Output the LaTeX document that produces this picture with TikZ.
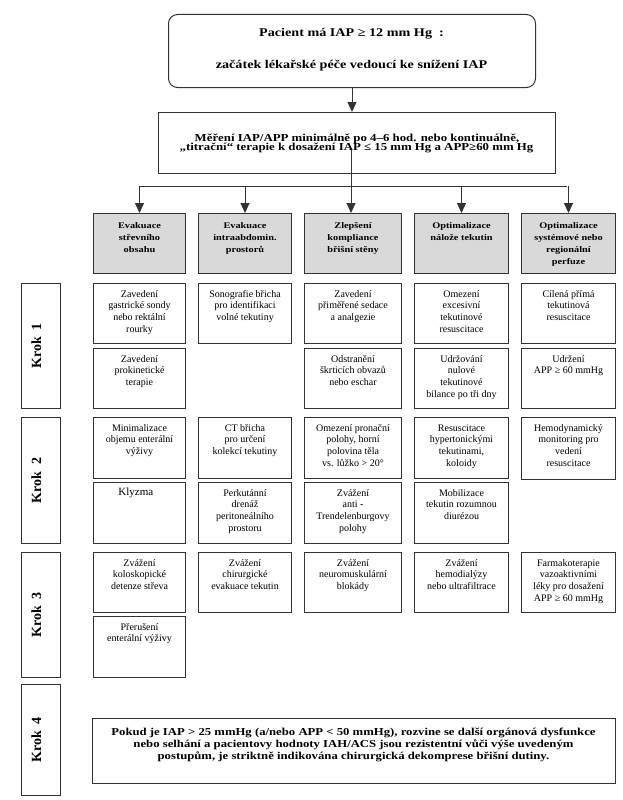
\documentclass[tikz,border=0pt]{standalone}
\usepackage{fontspec}
\setmainfont{Liberation Serif}
\newfontfamily\widefont{Liberation Serif}[FakeStretch=1.2]
\usetikzlibrary{arrows.meta}
\newcommand\mkbox[7]{%
  \node[#2, minimum width={#5pt-#3pt}, minimum height={#6pt-#4pt}] (#1) at (#3,#4) {};
  \node[#2text] (#1t) at (#1.north) {\strut #7};}
\begin{document}
\begin{tikzpicture}[x=1pt,y=-1pt,
  line/.style={draw=black!80, line width=1pt},
  frame/.style={line, inner sep=0pt, anchor=north west, fill=white},
  cellbox/.style={frame},
  hdrbox/.style={frame, fill=black!15},
  cellboxtext/.style={anchor=north, yshift=-5.8pt, inner sep=0pt, align=center,
    font=\fontsize{10}{11.7}\selectfont},
  hdrboxtext/.style={anchor=north, yshift=-6.4pt, inner sep=0pt, align=center,
    font=\widefont\bfseries\fontsize{8.6}{12}\selectfont},
  kroklabel/.style={font=\bfseries\fontsize{14}{16}\selectfont, rotate=90, inner sep=0pt, anchor=base},
  bigtext/.style={anchor=base, inner sep=0pt, font=\widefont\bfseries\fontsize{11.8}{14}\selectfont},
  meastext/.style={anchor=base, inner sep=0pt, font=\widefont\bfseries\fontsize{10.7}{12}\selectfont},
  arr/.style={line, -{Triangle[width=9pt,length=10pt]}},
]
\useasboundingbox (0,0) rectangle (623,800);

% top box
\node[line, rounded corners=9pt, inner sep=0pt, anchor=north west,
      minimum width=367pt, minimum height=73pt] (start) at (168,14) {};
\node[bigtext] (startA) at (351.5,36.3) {Pacient má IAP ≥ 12 mm Hg\ \ :};
\node[bigtext] (startB) at (351.5,68.3) {začátek lékařské péče vedoucí ke snížení IAP};

% measurement box
\node[frame, minimum width=397pt, minimum height=61pt] (meas) at (158,112) {};
\node[meastext] (measA) at (357,141) {Měření IAP/APP minimálně po 4–6 hod. nebo kontinuálně,};
\node[meastext] (measB) at (356.5,150.5) {„titrační“ terapie k dosažení IAP ≤ 15 mm Hg a APP≥60 mm Hg};

% header boxes
\mkbox{h1}{hdrbox}{93}{213}{185}{273}{Evakuace\\střevního\\obsahu}
\mkbox{h2}{hdrbox}{198}{213}{291}{273}{Evakuace\\intraabdomin.\\prostorů}
\mkbox{h3}{hdrbox}{304}{213}{401}{273}{Zlepšení\\kompliance\\břišní stěny}
\mkbox{h4}{hdrbox}{414}{213}{508}{273}{Optimalizace\\nálože tekutin}
\mkbox{h5}{hdrbox}{521}{213}{615}{273}{Optimalizace\\systémové nebo\\regionální\\perfuze}

% connectors
\draw[arr] (start.south) -- (start.south |- meas.north);
\coordinate (hl) at (139,186);
\coordinate (hr) at (567,186);
\coordinate (measin) at (351,150);
\draw[line] (hl) -- (hr);
\draw[arr] (measin) -- (measin |- h3.north);
\draw[arr] (h1.north |- hl) -- (h1.north);
\draw[arr] (h2.north |- hl) -- (h2.north);
\draw[arr] (h4.north |- hl) -- (h4.north);
\draw[arr] (h5.north |- hl) -- (h5.north);

% Krok labels
\node[frame, minimum width=39pt, minimum height=125pt] (k1) at (21,283) {};
\node[kroklabel] (k1t) at (k1.center) {Krok\ \ 1};
\node[frame, minimum width=39pt, minimum height=126pt] (k2) at (21,417) {};
\node[kroklabel] (k2t) at (k2.center) {Krok\ \ 2};
\node[frame, minimum width=39pt, minimum height=125pt] (k3) at (21,552) {};
\node[kroklabel] (k3t) at (k3.center) {Krok\ \ 3};
\node[frame, minimum width=39pt, minimum height=111pt] (k4) at (21,684) {};
\node[kroklabel] (k4t) at (k4.center) {Krok\ \ 4};

% Krok 1
\mkbox{a1}{cellbox}{93}{283}{185}{343}{Zavedení\\gastrické sondy\\nebo rektální\\rourky}
\mkbox{a2}{cellbox}{198}{283}{291}{343}{Sonografie břicha\\pro identifikaci\\volné tekutiny}
\mkbox{a3}{cellbox}{304}{283}{401}{343}{Zavedení\\přiměřené sedace\\a analgezie}
\mkbox{a4}{cellbox}{414}{283}{508}{343}{Omezení\\excesivní\\tekutinové\\resuscitace}
\mkbox{a5}{cellbox}{521}{283}{615}{343}{Cílená přímá\\tekutinová\\resuscitace}
\mkbox{b1}{cellbox}{93}{348}{185}{408}{Zavedení\\prokinetické\\terapie}
\mkbox{b3}{cellbox}{304}{348}{401}{408}{Odstranění\\škrticích obvazů\\nebo eschar}
\mkbox{b4}{cellbox}{414}{348}{508}{408}{Udržování\\nulové\\tekutinové\\bilance po tři dny}
\mkbox{b5}{cellbox}{521}{348}{615}{408}{Udržení\\APP ≥ 60 mmHg}

% Krok 2
\mkbox{c1}{cellbox}{93}{417}{185}{478}{Minimalizace\\objemu enterální\\výživy}
\mkbox{c2}{cellbox}{198}{417}{291}{478}{CT břicha\\pro určení\\kolekcí tekutiny}
\mkbox{c3}{cellbox}{304}{417}{401}{478}{Omezení pronační\\polohy, horní\\polovina těla\\vs. lůžko > 20°}
\mkbox{c4}{cellbox}{414}{417}{508}{478}{Resuscitace\\hypertonickými\\tekutinami,\\koloidy}
\mkbox{c5}{cellbox}{521}{417}{615}{479}{Hemodynamický\\monitoring pro\\vedení\\resuscitace}
\node[cellbox, minimum width=92pt, minimum height=61pt] (d1) at (93,482) {};
\node[anchor=base, inner sep=0pt, font=\fontsize{11}{13}\selectfont] (d1t) at (135.8,495.5) {Klyzma};
\mkbox{d2}{cellbox}{198}{482}{291}{543}{Perkutánní\\drenáž\\peritoneálního\\prostoru}
\mkbox{d3}{cellbox}{304}{482}{401}{543}{Zvážení\\anti -\\Trendelenburgovy\\polohy}
\mkbox{d4}{cellbox}{414}{482}{508}{543}{Mobilizace\\tekutin rozumnou\\diurézou}

% Krok 3
\mkbox{e1}{cellbox}{93}{552}{185}{612}{Zvážení\\koloskopické\\detenze střeva}
\mkbox{e2}{cellbox}{198}{552}{291}{612}{Zvážení\\chirurgické\\evakuace tekutin}
\mkbox{e3}{cellbox}{304}{552}{401}{612}{Zvážení\\neuromuskulární\\blokády}
\mkbox{e4}{cellbox}{414}{552}{508}{612}{Zvážení\\hemodialýzy\\nebo ultrafiltrace}
\mkbox{e5}{cellbox}{521}{552}{615}{612}{Farmakoterapie\\vazoaktivními\\léky pro dosažení\\APP ≥ 60 mmHg}
\mkbox{f1}{cellbox}{93}{616}{185}{677}{Přerušení\\enterální výživy}

% Krok 4
\node[frame, minimum width=523pt, minimum height=65pt] (final) at (92,718) {};
\node[anchor=north, inner sep=0pt, align=center,
      font=\widefont\bfseries\fontsize{10.6}{11.7}\selectfont] (finalt) at (353.5,727.3)
  {\strut Pokud je IAP > 25 mmHg (a/nebo APP < 50 mmHg), rozvine se další orgánová dysfunkce\\
   nebo selhání a pacientovy hodnoty IAH/ACS jsou rezistentní vůči výše uvedeným\\
   postupům, je striktně indikována chirurgická dekomprese břišní dutiny.};
\end{tikzpicture}
\end{document}
